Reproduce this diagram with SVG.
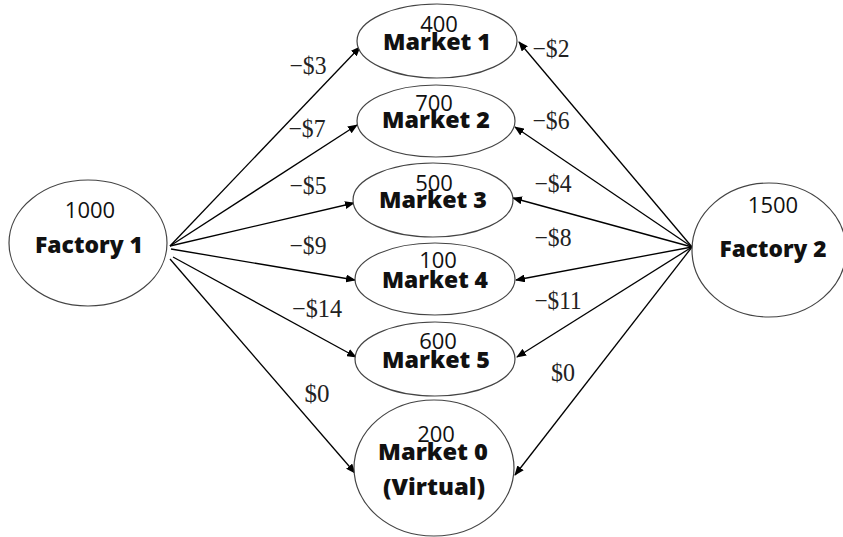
<svg xmlns="http://www.w3.org/2000/svg" width="843" height="537" viewBox="0 0 843 537">
<defs>
<marker id="ah" markerWidth="10" markerHeight="8" refX="9" refY="4" orient="auto" markerUnits="userSpaceOnUse">
<path d="M0,0 L10,4 L0,8 z" fill="#000"/>
</marker>
<style>
.node ellipse{fill:#fff;stroke:#444;stroke-width:1.2}
.num{font-family:"Open Sans","Liberation Sans",sans-serif;font-size:22px;fill:#111;text-anchor:middle}
.name{font-family:"Open Sans","Liberation Sans",sans-serif;font-size:23px;font-weight:800;fill:#111;text-anchor:middle}
.edges line{stroke:#000;stroke-width:1.3;marker-end:url(#ah)}
.cost{font-family:"Liberation Serif","Times New Roman",serif;font-size:25px;fill:#222;text-anchor:middle}
</style>
</defs>
<rect width="843" height="537" fill="#fff"/>
<g class="edges" id="connectors">
<line x1="170" y1="246" x2="360" y2="47"/>
<line x1="170" y1="246" x2="357" y2="125"/>
<line x1="170" y1="246" x2="354" y2="203"/>
<line x1="171" y1="249" x2="355" y2="280"/>
<line x1="173" y1="257" x2="356" y2="357"/>
<line x1="170" y1="259" x2="355" y2="473"/>
<line x1="692" y1="247" x2="519" y2="42"/>
<line x1="692" y1="247" x2="515" y2="127"/>
<line x1="692" y1="247" x2="513" y2="198"/>
<line x1="692" y1="247" x2="516" y2="280"/>
<line x1="692" y1="247" x2="517" y2="357"/>
<line x1="692" y1="247" x2="515" y2="475"/>
<text class="cost" x="308" y="74" textLength="37" lengthAdjust="spacingAndGlyphs">−$3</text>
<text class="cost" x="307" y="137" textLength="37" lengthAdjust="spacingAndGlyphs">−$7</text>
<text class="cost" x="308" y="194" textLength="37" lengthAdjust="spacingAndGlyphs">−$5</text>
<text class="cost" x="308" y="254" textLength="37" lengthAdjust="spacingAndGlyphs">−$9</text>
<text class="cost" x="317" y="317" textLength="50" lengthAdjust="spacingAndGlyphs">−$14</text>
<text class="cost" x="317" y="402" textLength="25" lengthAdjust="spacingAndGlyphs">$0</text>
<text class="cost" x="551" y="57" textLength="37" lengthAdjust="spacingAndGlyphs">−$2</text>
<text class="cost" x="551" y="129" textLength="37" lengthAdjust="spacingAndGlyphs">−$6</text>
<text class="cost" x="553" y="192" textLength="37" lengthAdjust="spacingAndGlyphs">−$4</text>
<text class="cost" x="553" y="246" textLength="37" lengthAdjust="spacingAndGlyphs">−$8</text>
<text class="cost" x="558" y="309" textLength="47" lengthAdjust="spacingAndGlyphs">−$11</text>
<text class="cost" x="563" y="381" textLength="24" lengthAdjust="spacingAndGlyphs">$0</text>
</g>
<g class="node" id="factory1">
<ellipse cx="88" cy="243" rx="79" ry="63"/>
<text class="num" x="90" y="218">1000</text>
<text class="name" x="89" y="253" textLength="108" lengthAdjust="spacingAndGlyphs">Factory 1</text>
</g>
<g class="node" id="factory2">
<ellipse cx="769" cy="250" rx="77" ry="67"/>
<text class="num" x="773" y="213">1500</text>
<text class="name" x="773" y="257" textLength="107" lengthAdjust="spacingAndGlyphs">Factory 2</text>
</g>
<g class="node" id="market1">
<ellipse cx="437" cy="41" rx="80" ry="37"/>
<text class="num" x="439" y="32">400</text>
<text class="name" x="437" y="50" textLength="108" lengthAdjust="spacingAndGlyphs">Market 1</text>
</g>
<g class="node" id="market2">
<ellipse cx="436" cy="121" rx="79" ry="36"/>
<text class="num" x="434" y="111">700</text>
<text class="name" x="436" y="128" textLength="108" lengthAdjust="spacingAndGlyphs">Market 2</text>
</g>
<g class="node" id="market3">
<ellipse cx="433" cy="200" rx="80" ry="37"/>
<text class="num" x="434" y="191">500</text>
<text class="name" x="433" y="208" textLength="108" lengthAdjust="spacingAndGlyphs">Market 3</text>
</g>
<g class="node" id="market4">
<ellipse cx="435" cy="279" rx="80" ry="36"/>
<text class="num" x="438" y="268">100</text>
<text class="name" x="435" y="288" textLength="106" lengthAdjust="spacingAndGlyphs">Market 4</text>
</g>
<g class="node" id="market5">
<ellipse cx="435" cy="359" rx="80" ry="37"/>
<text class="num" x="438" y="349">600</text>
<text class="name" x="436" y="368" textLength="108" lengthAdjust="spacingAndGlyphs">Market 5</text>
</g>
<g class="node" id="market0">
<ellipse cx="434" cy="468" rx="80" ry="68"/>
<text class="num" x="436" y="442">200</text>
<text class="name" x="433" y="460" textLength="110" lengthAdjust="spacingAndGlyphs">Market 0</text>
<text class="name" x="434" y="495" textLength="102" lengthAdjust="spacingAndGlyphs">(Virtual)</text>
</g>
</svg>
